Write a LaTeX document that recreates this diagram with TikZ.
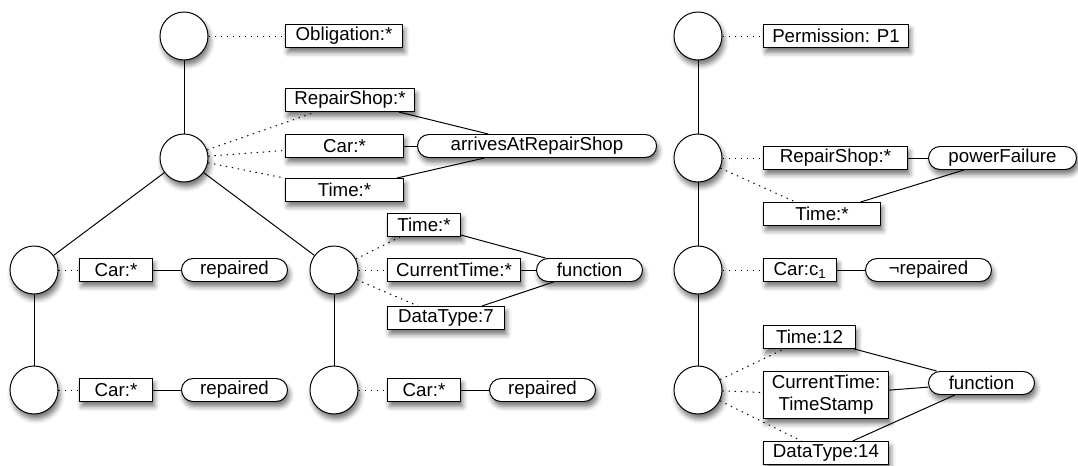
\documentclass[tikz,border=0pt]{standalone}
\usepackage{fontspec}
\setmainfont{Liberation Sans}
\usepackage{tikz}
\usetikzlibrary{shadows.blur}

\begin{document}
\begin{tikzpicture}[x=0.025cm, y=-0.025cm, line width=0.7pt,
        every node/.style = {font=\fontsize{13.3}{15.5}\selectfont},
        softshadow/.style = {blur shadow={shadow xshift=1.5pt, shadow yshift=-3.5pt, shadow blur radius=3.5pt, shadow opacity=55}},
        state/.style = {draw, circle, fill=white, minimum size=1.2cm, inner sep=0pt, softshadow},
        concept/.style = {draw, fill=white, anchor=west, minimum height=0.575cm, inner sep=0pt, softshadow},
        relation/.style = {concept, rounded corners=0.2875cm},
        attr/.style = {dash pattern=on 1pt off 3.3pt},
    ]
    \useasboundingbox (0,0) rectangle (1078,466);
    % obligation tree
    \node[state] (ob_root)   at (184,36)  {};
    \node[state] (ob_event)  at (184,158) {};
    \node[state] (ob_left)   at (34,270)  {};
    \node[state] (ob_left2)  at (34,390)  {};
    \node[state] (ob_right)  at (334,270) {};
    \node[state] (ob_right2) at (334,390) {};
    %
    \node[concept, minimum width=2.925cm]  (ob_type)    at (285,36)  {Obligation:*};
    \node[concept, minimum width=3.225cm]  (ob_shop)    at (285,100) {RepairShop:*};
    \node[concept, minimum width=2.95cm]   (ob_car)     at (285,146) {Car:*};
    \node[concept, minimum width=2.95cm]   (ob_time)    at (285,190) {Time:*};
    \node[relation, minimum width=5.975cm] (ob_arrives) at (417,146) {arrivesAtRepairShop};
    \node[concept, minimum width=1.825cm]  (ob_lcar)    at (79,270)  {Car:*};
    \node[relation, minimum width=2.65cm]  (ob_lrep)    at (181,270) {repaired};
    \node[concept, minimum width=1.825cm]  (ob_lcar2)   at (79,390)  {Car:*};
    \node[relation, minimum width=2.65cm]  (ob_lrep2)   at (181,390) {repaired};
    \node[concept, minimum width=1.825cm]  (ob_rtime)   at (387,225) {Time:*};
    \node[concept, minimum width=3.325cm]  (ob_rnow)    at (387,270) {CurrentTime:*};
    \node[concept, minimum width=2.925cm]  (ob_rtype)   at (387,318) {DataType:7};
    \node[relation, minimum width=2.65cm]  (ob_rfunc)   at (536,270) {function};
    \node[concept, minimum width=1.825cm]  (ob_rcar2)   at (387,390) {Car:*};
    \node[relation, minimum width=2.65cm]  (ob_rrep2)   at (489,390) {repaired};
    %
    \draw[attr] (ob_root) -- (ob_type);
    \draw       (ob_root) -- (ob_event);
    \draw[attr] (ob_event) -- (ob_shop);
    \draw[attr] (ob_event) -- (ob_car);
    \draw[attr] (ob_event) -- (ob_time);
    \draw       (ob_shop) -- (ob_arrives);
    \draw       (ob_car) -- (ob_arrives);
    \draw       (ob_time) -- (ob_arrives);
    \draw       (ob_event) -- (ob_left);
    \draw       (ob_event) -- (ob_right);
    \draw       (ob_left) -- (ob_left2);
    \draw       (ob_right) -- (ob_right2);
    \draw[attr] (ob_left) -- (ob_lcar);
    \draw       (ob_lcar) -- (ob_lrep);
    \draw[attr] (ob_left2) -- (ob_lcar2);
    \draw       (ob_lcar2) -- (ob_lrep2);
    \draw[attr] (ob_right) -- (ob_rtime);
    \draw[attr] (ob_right) -- (ob_rnow);
    \draw[attr] (ob_right) -- (ob_rtype);
    \draw       (ob_rtime) -- (ob_rfunc);
    \draw       (ob_rnow) -- (ob_rfunc);
    \draw       (ob_rtype) -- (ob_rfunc);
    \draw[attr] (ob_right2) -- (ob_rcar2);
    \draw       (ob_rcar2) -- (ob_rrep2);
    % permission tree
    \node[state] (pm_root)  at (698,36)  {};
    \node[state] (pm_event) at (698,158) {};
    \node[state] (pm_state) at (698,270) {};
    \node[state] (pm_func)  at (698,390) {};
    %
    \node[concept, minimum width=3.625cm]  (pm_type)  at (763,36)  {Permission: P1};
    \node[concept, minimum width=3.6cm]    (pm_shop)  at (763,158) {RepairShop:*};
    \node[relation, minimum width=3.7cm]   (pm_fail)  at (928,158) {powerFailure};
    \node[concept, minimum width=2.925cm]  (pm_time)  at (763,214) {Time:*};
    \node[concept, minimum width=1.825cm]  (pm_car)   at (763,270) {Car:c\textsubscript{1}};
    \node[relation, minimum width=3.15cm]  (pm_rep)   at (865,270) {¬repaired};
    \node[concept, minimum width=2.3cm]    (pm_ftime) at (763,337) {Time:12};
    \node[concept, minimum width=3.125cm, minimum height=1.175cm, align=center] (pm_fnow) at (763,395) {CurrentTime:\\TimeStamp};
    \node[concept, minimum width=3.125cm]  (pm_ftype) at (763,453) {DataType:14};
    \node[relation, minimum width=2.65cm]  (pm_fn)    at (928,383) {function};
    %
    \draw[attr] (pm_root) -- (pm_type);
    \draw       (pm_root) -- (pm_event);
    \draw       (pm_event) -- (pm_state);
    \draw       (pm_state) -- (pm_func);
    \draw[attr] (pm_event) -- (pm_shop);
    \draw[attr] (pm_event) -- (pm_time);
    \draw       (pm_shop) -- (pm_fail);
    \draw       (pm_time) -- (pm_fail);
    \draw[attr] (pm_state) -- (pm_car);
    \draw       (pm_car) -- (pm_rep);
    \draw[attr] (pm_func) -- (pm_ftime);
    \draw[attr] (pm_func) -- (pm_fnow);
    \draw[attr] (pm_func) -- (pm_ftype);
    \draw       (pm_ftime) -- (pm_fn);
    \draw       (pm_fnow) -- (pm_fn);
    \draw       (pm_ftype) -- (pm_fn);
    %
\end{tikzpicture}
\end{document}
